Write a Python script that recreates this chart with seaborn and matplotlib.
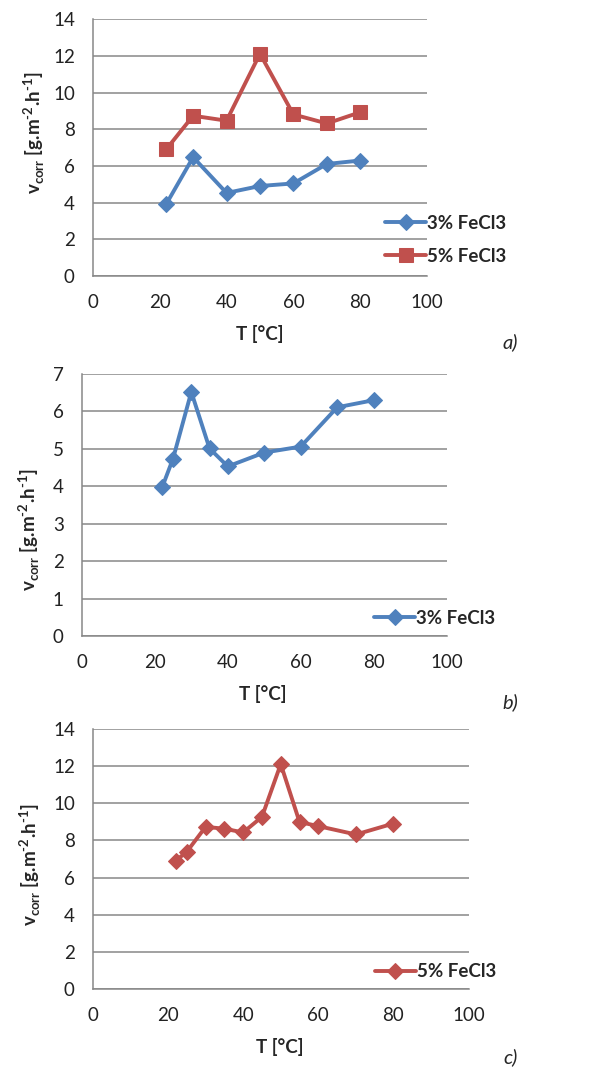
import matplotlib
matplotlib.use("Agg")
import matplotlib.pyplot as plt
import seaborn as sns
import pandas as pd

# ---- data ----
temp_a = [22, 30, 40, 50, 60, 70, 80]
v3_a = [3.94, 6.48, 4.53, 4.91, 5.05, 6.11, 6.30]
v5_a = [6.92, 8.74, 8.47, 12.12, 8.81, 8.32, 8.93]

temp_b = [22, 25, 30, 35, 40, 50, 60, 70, 80]
v3_b = [3.97, 4.74, 6.52, 5.01, 4.53, 4.90, 5.06, 6.11, 6.30]

temp_c = [22, 25, 30, 35, 40, 45, 50, 55, 60, 70, 80]
v5_c = [6.90, 7.39, 8.73, 8.63, 8.43, 9.27, 12.11, 8.99, 8.77, 8.32, 8.91]

label3 = "3% FeCl3"
label5 = "5% FeCl3"
xticks = [0, 20, 40, 60, 80, 100]

BLUE = "#4F81BD"
RED = "#C0504D"
GRID = "#878787"
FS = 13.5

sns.set_theme(style="white")
plt.rcParams["font.family"] = ["Lato", "DejaVu Sans"]
plt.rcParams["mathtext.fontset"] = "custom"
plt.rcParams["mathtext.rm"] = "Lato"
plt.rcParams["mathtext.bf"] = "Lato:bold"

fig = plt.figure(figsize=(6.11, 10.70), dpi=100)

YLABEL = "v$_{\\mathbf{corr}}$ [g.m$^{\\mathbf{\u20102}}$.h$^{\\mathbf{\u20101}}$]"

def style_axes(ax, ymax, ystep, ylab_xy, xlab_xy):
    ax.set_xlim(0, 100)
    ax.set_ylim(0, ymax)
    ax.set_xticks(xticks)
    ax.set_yticks(list(range(0, ymax + 1, ystep)))
    ax.yaxis.grid(True, color=GRID, linewidth=1.1)
    ax.xaxis.grid(False)
    ax.set_axisbelow(True)
    for s in ["top", "right"]:
        ax.spines[s].set_visible(False)
    for s in ["left", "bottom"]:
        ax.spines[s].set_color(GRID)
        ax.spines[s].set_linewidth(1.1)
    ax.tick_params(axis="both", length=0, pad=13, labelsize=FS, colors="#222222")
    ax.set_xlabel("T [°C]", fontsize=FS, fontweight="bold")
    ax.set_ylabel(YLABEL, fontsize=FS, fontweight="bold")
    ax.yaxis.set_label_coords(*ylab_xy)
    ax.xaxis.set_label_coords(*xlab_xy)

def draw(ax, x, y, color, marker, ms, label):
    df = pd.DataFrame({"T": x, "v": y})
    sns.lineplot(data=df, x="T", y="v", ax=ax, color=color, marker=marker,
                 markersize=ms, markeredgecolor=color, linewidth=2.8,
                 sort=False, label=label)

def legend(ax, x, y):
    return ax.legend(loc="center left", bbox_to_anchor=(x, y),
                     bbox_transform=fig.transFigure, frameon=False,
                     borderpad=0, handletextpad=0.05, handlelength=2.2,
                     labelspacing=0.85, prop={"weight": "bold", "size": FS})

# ---- panel a ----
ax1 = fig.add_axes([0.152, 0.742, 0.547, 0.240])
draw(ax1, temp_a, v3_a, BLUE, "D", 8.5, label3)
draw(ax1, temp_a, v5_a, RED, "s", 10, label5)
style_axes(ax1, 14, 2, (-0.138, 0.56), (0.5, -0.19))
legend(ax1, 0.615, 0.7757)
fig.text(0.822, 0.680, "a)", fontsize=14.5, style="italic", ha="left", va="center")

# ---- panel b ----
ax2 = fig.add_axes([0.134, 0.4056, 0.597, 0.2449])
draw(ax2, temp_b, v3_b, BLUE, "D", 8.5, label3)
style_axes(ax2, 7, 1, (-0.11, 0.405), (0.496, -0.187))
legend(ax2, 0.597, 0.4224)
fig.text(0.822, 0.344, "b)", fontsize=14.5, style="italic", ha="left", va="center")

# ---- panel c ----
ax3 = fig.add_axes([0.152, 0.0757, 0.615, 0.243])
draw(ax3, temp_c, v5_c, RED, "D", 8.5, label5)
style_axes(ax3, 14, 2, (-0.133, 0.477), (0.497, -0.188))
legend(ax3, 0.598, 0.0916)
fig.text(0.824, 0.012, "c)", fontsize=14.5, style="italic", ha="left", va="center")

fig.savefig("out.png", dpi=100)
